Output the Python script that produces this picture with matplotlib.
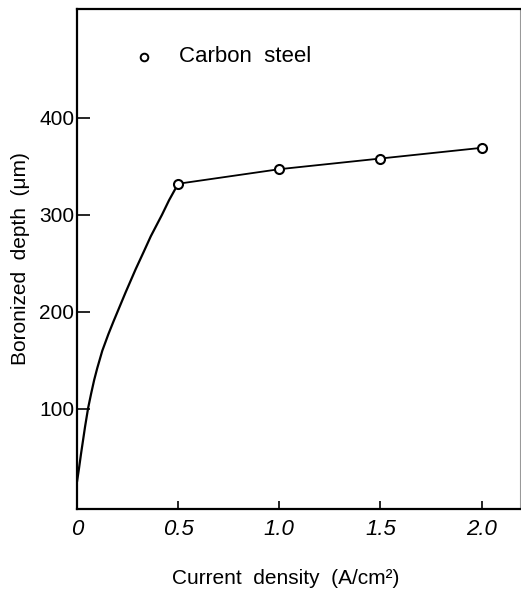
import matplotlib
matplotlib.use("Agg")
import matplotlib.pyplot as plt

plt.rcParams["font.family"] = ["Liberation Sans", "DejaVu Sans"]

# Measured boronized depth for carbon steel
current_density = [0.5, 1.0, 1.5, 2.0]          # A/cm^2
boronized_depth = [332, 347, 358, 369]          # um

# Hand-drawn trend at low current density (no markers)
trend_x = [0.0, 0.01, 0.02, 0.03, 0.04, 0.055, 0.07, 0.085, 0.10, 0.125,
           0.155, 0.18, 0.20, 0.24, 0.29, 0.33, 0.365, 0.42, 0.455, 0.5]
trend_y = [25, 39, 54, 68, 82, 101, 116, 130, 142, 160,
           177, 190, 200, 220, 244, 262, 278, 300, 315, 332]

x_ticks = [0, 0.5, 1.0, 1.5, 2.0]
x_tick_labels = ["0", "0.5", "1.0", "1.5", "2.0"]
y_ticks = [100, 200, 300, 400]
y_tick_labels = ["100", "200", "300", "400"]

fig = plt.figure(figsize=(5.21, 5.95), dpi=100)
ax = fig.add_axes([77 / 521, 86 / 595, 443 / 521, 500 / 595])

ax.plot(trend_x, trend_y, color="black", lw=1.6, solid_capstyle="round",
        solid_joinstyle="round")
ax.plot(current_density, boronized_depth, color="black", lw=1.3,
        marker="o", markersize=6.5, markerfacecolor="white",
        markeredgecolor="black", markeredgewidth=1.5)

ax.set_xlim(0, 2.19)
ax.set_ylim(-3, 512)

ax.set_xticks(x_ticks)
ax.set_xticklabels(x_tick_labels, fontsize=16, style="italic")
ax.set_yticks(y_ticks)
ax.set_yticklabels(y_tick_labels, fontsize=15)
ax.tick_params(axis="x", direction="in", length=6, width=1.2, pad=7)
ax.tick_params(axis="y", direction="in", length=9, width=1.2, pad=2)

for side in ["left", "bottom", "top"]:
    ax.spines[side].set_linewidth(1.6)
ax.spines["right"].set_linewidth(0.8)
ax.spines["right"].set_color("#999999")

ax.set_xlabel("Current  density  (A/cm²)", fontsize=15)
ax.xaxis.set_label_coords(0.47, -0.12)
ax.set_ylabel("Boronized  depth  (μm)", fontsize=15)
ax.yaxis.set_label_coords(-0.105, 0.5)

# Legend entry drawn inside the plot area
ax.plot([0.151], [0.904], transform=ax.transAxes, marker="o", markersize=5.5,
        markerfacecolor="white", markeredgecolor="black", markeredgewidth=1.4,
        linestyle="none")
ax.text(0.231, 0.904, "Carbon  steel", transform=ax.transAxes,
        fontsize=16, va="center", ha="left")

fig.savefig("out.png", dpi=100)
